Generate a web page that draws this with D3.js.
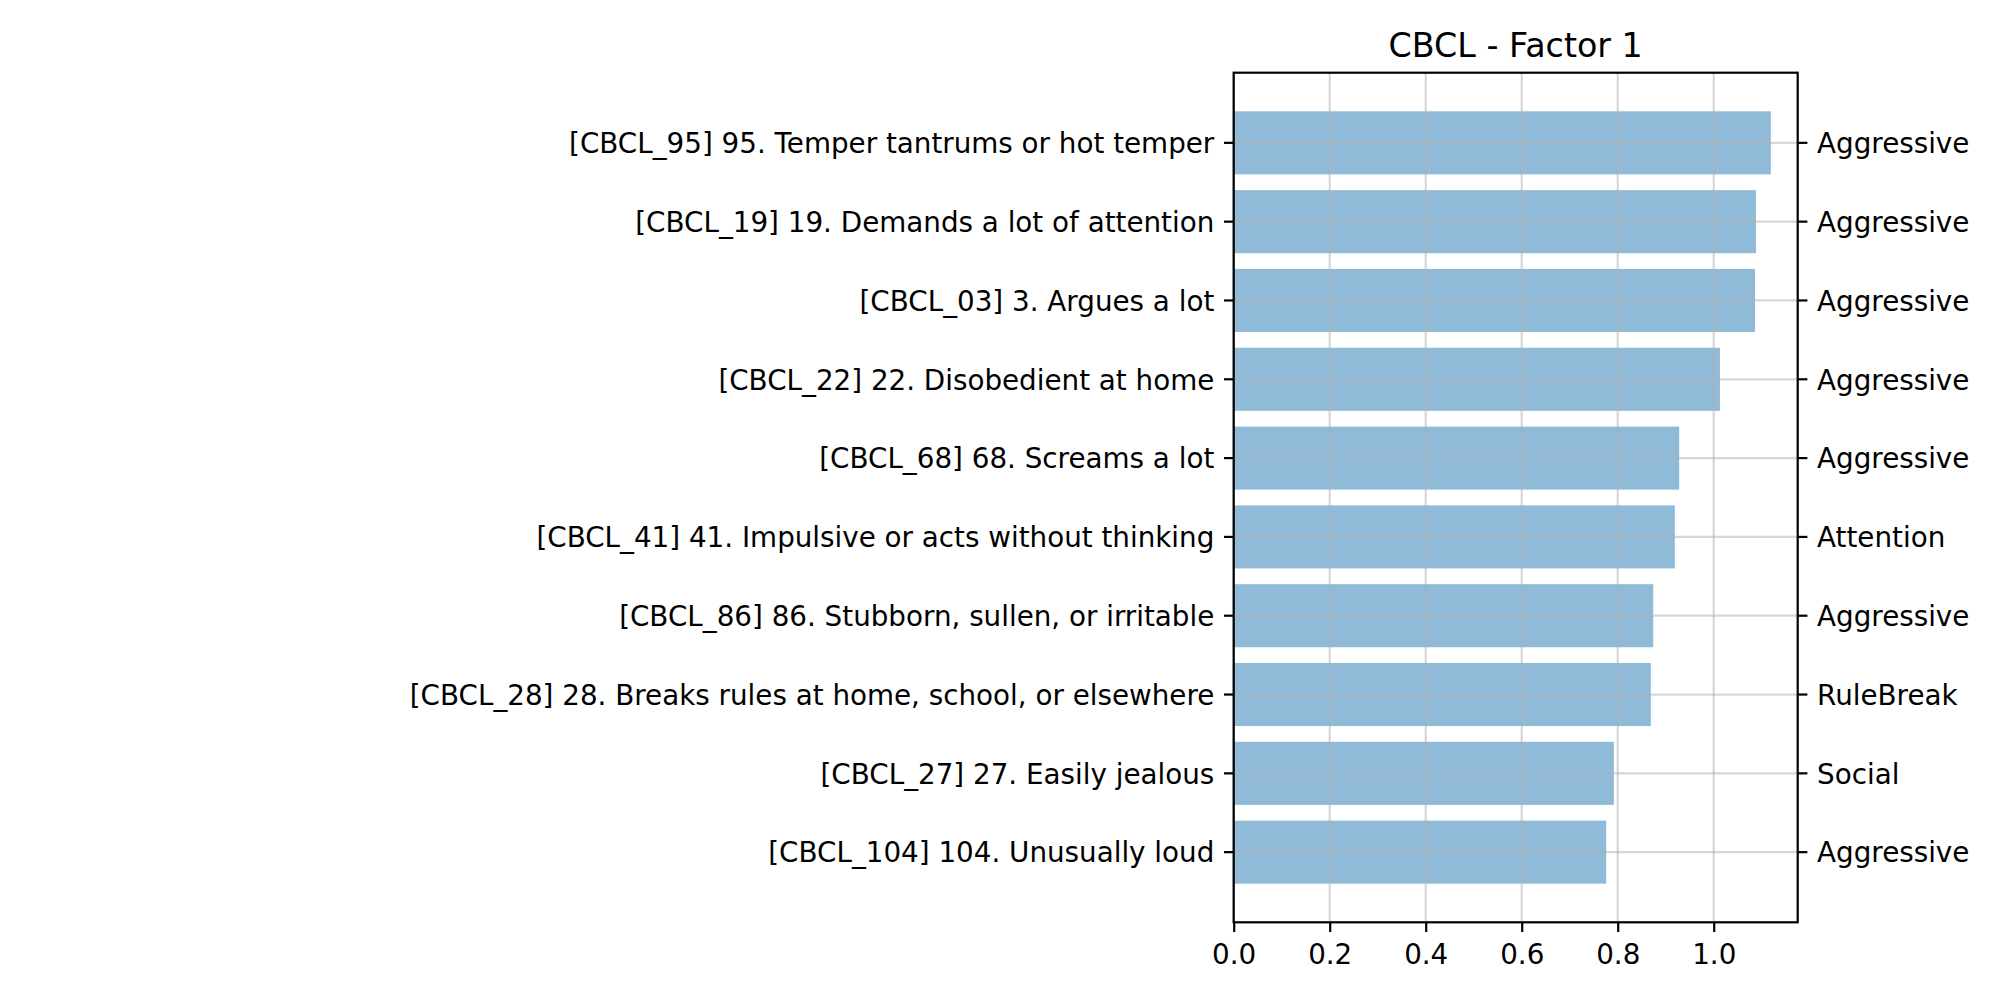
<!DOCTYPE html>
<html>
<head>
<meta charset="utf-8">
<script src="https://cdn.jsdelivr.net/npm/d3@7"></script>
<style>
  body { margin: 0; background: #fff; }
  text { font-family: "DejaVu Sans", sans-serif; fill: #000; }
</style>
</head>
<body>
<svg id="chart"></svg>
<script>
// item labels, top to bottom
const items = [
  "[CBCL_95] 95. Temper tantrums or hot temper",
  "[CBCL_19] 19. Demands a lot of attention",
  "[CBCL_03] 3. Argues a lot",
  "[CBCL_22] 22. Disobedient at home",
  "[CBCL_68] 68. Screams a lot",
  "[CBCL_41] 41. Impulsive or acts without thinking",
  "[CBCL_86] 86. Stubborn, sullen, or irritable",
  "[CBCL_28] 28. Breaks rules at home, school, or elsewhere",
  "[CBCL_27] 27. Easily jealous",
  "[CBCL_104] 104. Unusually loud"
];

// loading of each item on factor 1
const loadings = [1.119, 1.088, 1.086, 1.013, 0.928, 0.919, 0.874, 0.869, 0.792, 0.776];

// syndrome scale of each item (right axis)
const scales = [
  "Aggressive", "Aggressive", "Aggressive", "Aggressive", "Aggressive",
  "Attention", "Aggressive", "RuleBreak", "Social", "Aggressive"
];

const xTicks = [0.0, 0.2, 0.4, 0.6, 0.8, 1.0];
const title = "CBCL - Factor 1";

const width = 2000;
const height = 1000;
const margin = { left: 1233.7, right: 2000 - 1797.7, top: 72.7, bottom: 1000 - 922.3 };
const fontSize = 27.78;
const tickLen = 9.7;
const lw = 2.2;

const svg = d3.select("#chart").attr("width", width).attr("height", height);

const n = items.length;
const xMax = d3.max(loadings) * 1.05;
const x = d3.scaleLinear().domain([0, xMax]).range([margin.left, width - margin.right]);
// bars are 0.8 thick with 5% padding either side of the data limits
const pad = (n - 1 + 0.8) * 0.05 + 0.4;
const y = d3.scaleLinear().domain([-pad, n - 1 + pad]).range([margin.top, height - margin.bottom]);

const plotTop = margin.top, plotBottom = height - margin.bottom;
const plotLeft = margin.left, plotRight = width - margin.right;

// bars
svg.append("g")
  .selectAll("rect")
  .data(loadings)
  .join("rect")
  .attr("x", x(0))
  .attr("y", (d, i) => y(i - 0.4))
  .attr("width", d => x(d) - x(0))
  .attr("height", y(0.4) - y(-0.4))
  .attr("fill", "#1f77b4")
  .attr("fill-opacity", 0.5);

// grid (drawn over the bars like matplotlib)
const grid = svg.append("g")
  .attr("stroke", "#b0b0b0")
  .attr("stroke-opacity", 0.5)
  .attr("stroke-width", lw);
grid.selectAll("line.v")
  .data(xTicks)
  .join("line")
  .attr("class", "v")
  .attr("x1", d => x(d)).attr("x2", d => x(d))
  .attr("y1", plotTop).attr("y2", plotBottom);
grid.selectAll("line.h")
  .data(items)
  .join("line")
  .attr("class", "h")
  .attr("x1", plotLeft).attr("x2", plotRight)
  .attr("y1", (d, i) => y(i)).attr("y2", (d, i) => y(i));

// bottom axis
const xAxis = d3.axisBottom(x)
  .tickValues(xTicks)
  .tickFormat(d3.format(".1f"))
  .tickSize(tickLen)
  .tickPadding(9.7);
const gx = svg.append("g")
  .attr("transform", `translate(0,${plotBottom})`)
  .call(xAxis);
gx.select(".domain").remove();
gx.selectAll("line").attr("stroke", "#000").attr("stroke-width", lw);
gx.selectAll("text")
  .attr("font-size", fontSize)
  .attr("font-family", "DejaVu Sans")
  .attr("fill", "#000")
  .attr("y", 41.7)
  .attr("dy", null);

// left axis (item names)
const yl = svg.append("g");
yl.selectAll("line")
  .data(items)
  .join("line")
  .attr("x1", plotLeft - tickLen).attr("x2", plotLeft)
  .attr("y1", (d, i) => y(i)).attr("y2", (d, i) => y(i))
  .attr("stroke", "#000").attr("stroke-width", lw);
yl.selectAll("text")
  .data(items)
  .join("text")
  .attr("x", plotLeft - tickLen - 9.7)
  .attr("y", (d, i) => y(i))
  .attr("dy", "0.37em")
  .attr("text-anchor", "end")
  .attr("font-size", fontSize)
  .text(d => d);

// right axis (scale names)
const yr = svg.append("g");
yr.selectAll("line")
  .data(scales)
  .join("line")
  .attr("x1", plotRight).attr("x2", plotRight + tickLen)
  .attr("y1", (d, i) => y(i)).attr("y2", (d, i) => y(i))
  .attr("stroke", "#000").attr("stroke-width", lw);
yr.selectAll("text")
  .data(scales)
  .join("text")
  .attr("x", plotRight + tickLen + 9.7)
  .attr("y", (d, i) => y(i))
  .attr("dy", "0.37em")
  .attr("text-anchor", "start")
  .attr("font-size", fontSize)
  .text(d => d);

// frame
svg.append("rect")
  .attr("x", plotLeft).attr("y", plotTop)
  .attr("width", plotRight - plotLeft).attr("height", plotBottom - plotTop)
  .attr("fill", "none")
  .attr("stroke", "#000")
  .attr("stroke-width", lw);

// title
svg.append("text")
  .attr("x", (plotLeft + plotRight) / 2)
  .attr("y", 57)
  .attr("text-anchor", "middle")
  .attr("font-size", 33.3)
  .text(title);
</script>
</body>
</html>
